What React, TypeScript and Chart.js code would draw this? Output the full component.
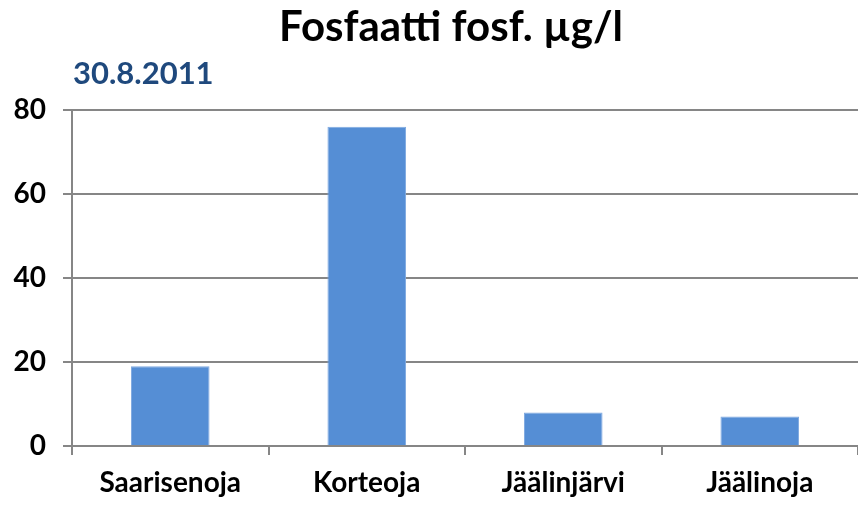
import React, { useEffect, useRef } from "react";
import { Chart, registerables } from "chart.js";

Chart.register(...registerables);

const categories = ["Saarisenoja", "Korteoja", "Jäälinjärvi", "Jäälinoja"];
const values = [19, 76, 8, 7];
const yTicks = [0, 20, 40, 60, 80];
const titleText = "Fosfaatti fosf. µg/l";
const subtitleText = "30.8.2011";

const FONT = "Lato, 'Open Sans', sans-serif";

const textPlugin = {
  id: "headerText",
  afterDraw(chart: any) {
    const ctx = chart.ctx;
    const area = chart.chartArea;
    ctx.save();
    ctx.fillStyle = "#000000";
    ctx.font = `bold 42px ${FONT}`;
    ctx.textAlign = "center";
    ctx.textBaseline = "alphabetic";
    ctx.fillText(titleText, 451, 41);
    ctx.fillStyle = "#1F497D";
    ctx.font = `bold 31px ${FONT}`;
    ctx.textAlign = "left";
    ctx.fillText(subtitleText, area.left + 1, 84);
    ctx.restore();
  },
};

export default function App() {
  const ref = useRef<HTMLCanvasElement>(null);
  useEffect(() => {
    if (!ref.current) return;
    const chart = new Chart(ref.current, {
      type: "bar",
      data: {
        labels: categories,
        datasets: [
          {
            data: values,
            backgroundColor: "#558ED5",
            borderColor: "#7FA9E0",
            borderWidth: 1,
            categoryPercentage: 1,
            barPercentage: 0.4,
          },
        ],
      },
      options: {
        responsive: false,
        animation: false,
        layout: { padding: { top: 110, right: 0, left: 0, bottom: 0 } },
        plugins: {
          legend: { display: false },
          title: { display: false },
          tooltip: { enabled: false },
        },
        scales: {
          x: {
            offset: true,
            grid: {
              offset: true,
              drawOnChartArea: false,
              drawTicks: true,
              tickLength: 9,
              color: "#868686",
              lineWidth: 2,
            },
            border: { color: "#868686", width: 2 },
            ticks: {
              color: "#000000",
              font: { family: FONT, size: 28, weight: "bold" },
              padding: 11,
              maxRotation: 0,
            },
            afterFit(scale: any) {
              scale.height = 59;
            },
          },
          y: {
            min: 0,
            max: 80,
            afterBuildTicks(scale: any) {
              scale.ticks = yTicks.map((v) => ({ value: v }));
            },
            grid: {
              color: "#868686",
              lineWidth: 2,
              tickLength: 9,
            },
            border: { color: "#868686", width: 2 },
            ticks: {
              color: "#000000",
              font: { family: FONT, size: 28, weight: "bold" },
              padding: 17,
            },
            afterFit(scale: any) {
              scale.width = 72;
            },
          },
        },
      },
      plugins: [textPlugin],
    });
    return () => chart.destroy();
  }, []);
  return (
    <div style={{ position: "fixed", left: 0, top: 0, width: 858, height: 505, background: "#fff" }}>
      <canvas ref={ref} width={858} height={505} />
    </div>
  );
}
